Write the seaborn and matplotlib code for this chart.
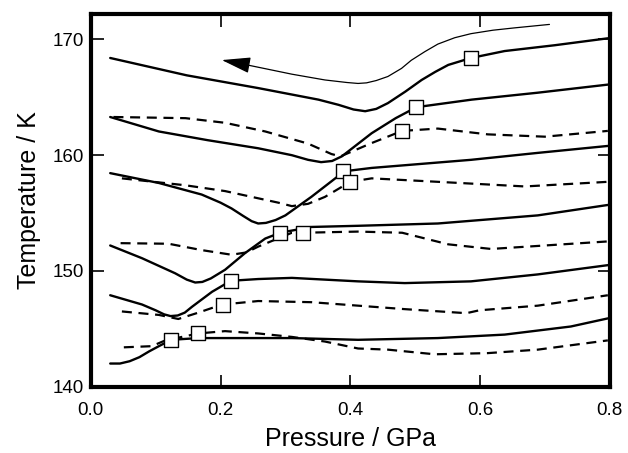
import matplotlib
matplotlib.use('Agg')
import matplotlib.pyplot as plt
import seaborn as sns

# Curve data: pressure (GPa), temperature (K)
# top thin line (with arrow)
P_arrow = [0.228, 0.31, 0.361, 0.395, 0.412, 0.425, 0.440, 0.458, 0.479, 0.494, 0.515, 0.535, 0.561, 0.586, 0.62, 0.653, 0.707]
T_arrow = [167.95, 167.0, 166.5, 166.28, 166.2, 166.25, 166.45, 166.8, 167.5, 168.2, 168.95, 169.6, 170.15, 170.5, 170.8, 171.0, 171.3]

# solid curves
P_A = [0.030, 0.148, 0.258, 0.351, 0.382, 0.405, 0.423, 0.440, 0.458, 0.485, 0.51, 0.531, 0.551, 0.586, 0.638, 0.715, 0.797]
T_A = [168.4, 166.9, 165.8, 164.8, 164.35, 163.95, 163.8, 164.0, 164.5, 165.5, 166.5, 167.2, 167.8, 168.4, 169.0, 169.5, 170.1]

P_B = [0.030, 0.105, 0.18, 0.258, 0.31, 0.335, 0.355, 0.372, 0.387, 0.41, 0.433, 0.47, 0.502, 0.587, 0.689, 0.797]
T_B = [163.3, 162.05, 161.3, 160.6, 160.0, 159.6, 159.4, 159.5, 159.9, 160.9, 161.9, 163.2, 164.15, 164.8, 165.4, 166.1]

P_C = [0.030, 0.105, 0.171, 0.20, 0.217, 0.235, 0.248, 0.258, 0.27, 0.285, 0.30, 0.32, 0.34, 0.3815, 0.389, 0.433, 0.586, 0.689, 0.797]
T_C = [158.45, 157.6, 156.6, 155.9, 155.4, 154.75, 154.3, 154.1, 154.15, 154.4, 154.8, 155.6, 156.4, 158.2, 158.6, 158.9, 159.6, 160.2, 160.8]

P_D = [0.030, 0.079, 0.13, 0.148, 0.161, 0.172, 0.185, 0.207, 0.238, 0.269, 0.292, 0.34, 0.412, 0.535, 0.689, 0.797]
T_D = [152.2, 151.1, 149.8, 149.25, 149.0, 149.05, 149.35, 150.1, 151.55, 152.8, 153.3, 153.8, 153.9, 154.1, 154.8, 155.7]

P_E = [0.030, 0.079, 0.10, 0.113, 0.123, 0.134, 0.145, 0.156, 0.187, 0.216, 0.258, 0.31, 0.412, 0.484, 0.586, 0.689, 0.797]
T_E = [147.9, 147.1, 146.6, 146.25, 146.1, 146.15, 146.4, 146.9, 148.2, 149.15, 149.3, 149.4, 149.1, 148.95, 149.1, 149.7, 150.5]

P_F = [0.030, 0.045, 0.06, 0.075, 0.09, 0.105, 0.124, 0.166, 0.31, 0.412, 0.535, 0.638, 0.74, 0.797]
T_F = [142.0, 142.0, 142.2, 142.55, 143.05, 143.5, 144.05, 144.2, 144.2, 144.05, 144.2, 144.5, 145.2, 145.9]

# dashed curves
P_b = [0.035, 0.146, 0.207, 0.269, 0.335, 0.371, 0.385, 0.433, 0.48, 0.535, 0.612, 0.70, 0.797]
T_b = [163.3, 163.2, 162.8, 162.05, 161.0, 160.1, 159.9, 161.05, 162.1, 162.3, 161.8, 161.6, 162.1]

P_c = [0.048, 0.146, 0.207, 0.289, 0.31, 0.335, 0.361, 0.40, 0.433, 0.535, 0.669, 0.797]
T_c = [158.0, 157.4, 156.9, 155.9, 155.6, 155.8, 156.4, 157.7, 158.0, 157.7, 157.3, 157.7]

P_d = [0.046, 0.12, 0.171, 0.217, 0.24, 0.258, 0.31, 0.327, 0.412, 0.48, 0.551, 0.617, 0.797]
T_d = [152.4, 152.35, 151.8, 151.4, 151.6, 152.1, 153.3, 153.3, 153.4, 153.3, 152.3, 151.9, 152.55]

P_e = [0.048, 0.105, 0.135, 0.166, 0.192, 0.2035, 0.258, 0.34, 0.412, 0.484, 0.579, 0.599, 0.689, 0.797]
T_e = [146.5, 146.2, 145.85, 146.4, 146.9, 147.1, 147.4, 147.3, 147.0, 146.7, 146.35, 146.6, 147.0, 147.9]

P_f = [0.051, 0.094, 0.115, 0.166, 0.207, 0.258, 0.31, 0.361, 0.412, 0.458, 0.530, 0.612, 0.689, 0.797]
T_f = [143.4, 143.5, 144.0, 144.6, 144.8, 144.6, 144.3, 143.9, 143.3, 143.2, 142.8, 142.9, 143.2, 144.0]

# square markers (transition points)
P_sq = [0.586, 0.502, 0.48, 0.389, 0.40, 0.292, 0.327, 0.216, 0.2035, 0.124, 0.166]
T_sq = [168.4, 164.15, 162.1, 158.6, 157.7, 153.3, 153.3, 149.15, 147.1, 144.05, 144.6]

sns.set_style('ticks')
plt.rcParams.update({
    'font.family': ['Liberation Sans', 'DejaVu Sans'],
    'text.color': 'black',
    'axes.labelcolor': 'black',
    'axes.edgecolor': 'black',
    'axes.linewidth': 3,
    'xtick.direction': 'in', 'ytick.direction': 'in',
    'xtick.top': True, 'ytick.right': True,
    'xtick.bottom': True, 'ytick.left': True,
    'xtick.major.size': 9, 'ytick.major.size': 9,
    'xtick.major.width': 1.2, 'ytick.major.width': 1.2,
    'xtick.major.pad': 11, 'ytick.major.pad': 5,
    'xtick.labelsize': 13.5, 'ytick.labelsize': 13.5,
    'xtick.color': 'black', 'ytick.color': 'black',
})

fig = plt.figure(figsize=(6.28, 4.53), dpi=100)
ax = fig.add_axes([0.1445, 0.1464, 0.8265, 0.8227])

solid = [(P_A, T_A), (P_B, T_B), (P_C, T_C), (P_D, T_D), (P_E, T_E), (P_F, T_F)]
dashed = [(P_b, T_b), (P_c, T_c), (P_d, T_d), (P_e, T_e), (P_f, T_f)]

for px, ty in solid:
    sns.lineplot(x=px, y=ty, ax=ax, color='black', lw=1.7, sort=False, estimator=None)
for px, ty in dashed:
    sns.lineplot(x=px, y=ty, ax=ax, color='black', lw=1.6, sort=False, estimator=None,
                 dashes=False, linestyle=(0, (4.5, 3)))

sns.lineplot(x=P_arrow, y=T_arrow, ax=ax, color='black', lw=0.9, sort=False, estimator=None)
ax.annotate('', xy=(0.202, 168.22), xytext=(P_arrow[0], T_arrow[0]),
            arrowprops=dict(arrowstyle='-|>,head_length=0.9,head_width=0.25',
                            color='black', lw=0.9, mutation_scale=20,
                            shrinkA=0, shrinkB=0))

sns.scatterplot(x=P_sq, y=T_sq, ax=ax, marker='s', s=95, facecolor='white',
                edgecolor='black', linewidth=1.0, zorder=5)

ax.set_xlim(0, 0.8)
ax.set_ylim(140, 172.2)
ax.set_xticks([0.0, 0.2, 0.4, 0.6, 0.8])
ax.set_yticks([140, 150, 160, 170])

ax.set_xlabel('Pressure / GPa', fontsize=18, labelpad=6)
ax.set_ylabel('Temperature / K', fontsize=18, labelpad=8)

fig.savefig('out.png', dpi=100)
